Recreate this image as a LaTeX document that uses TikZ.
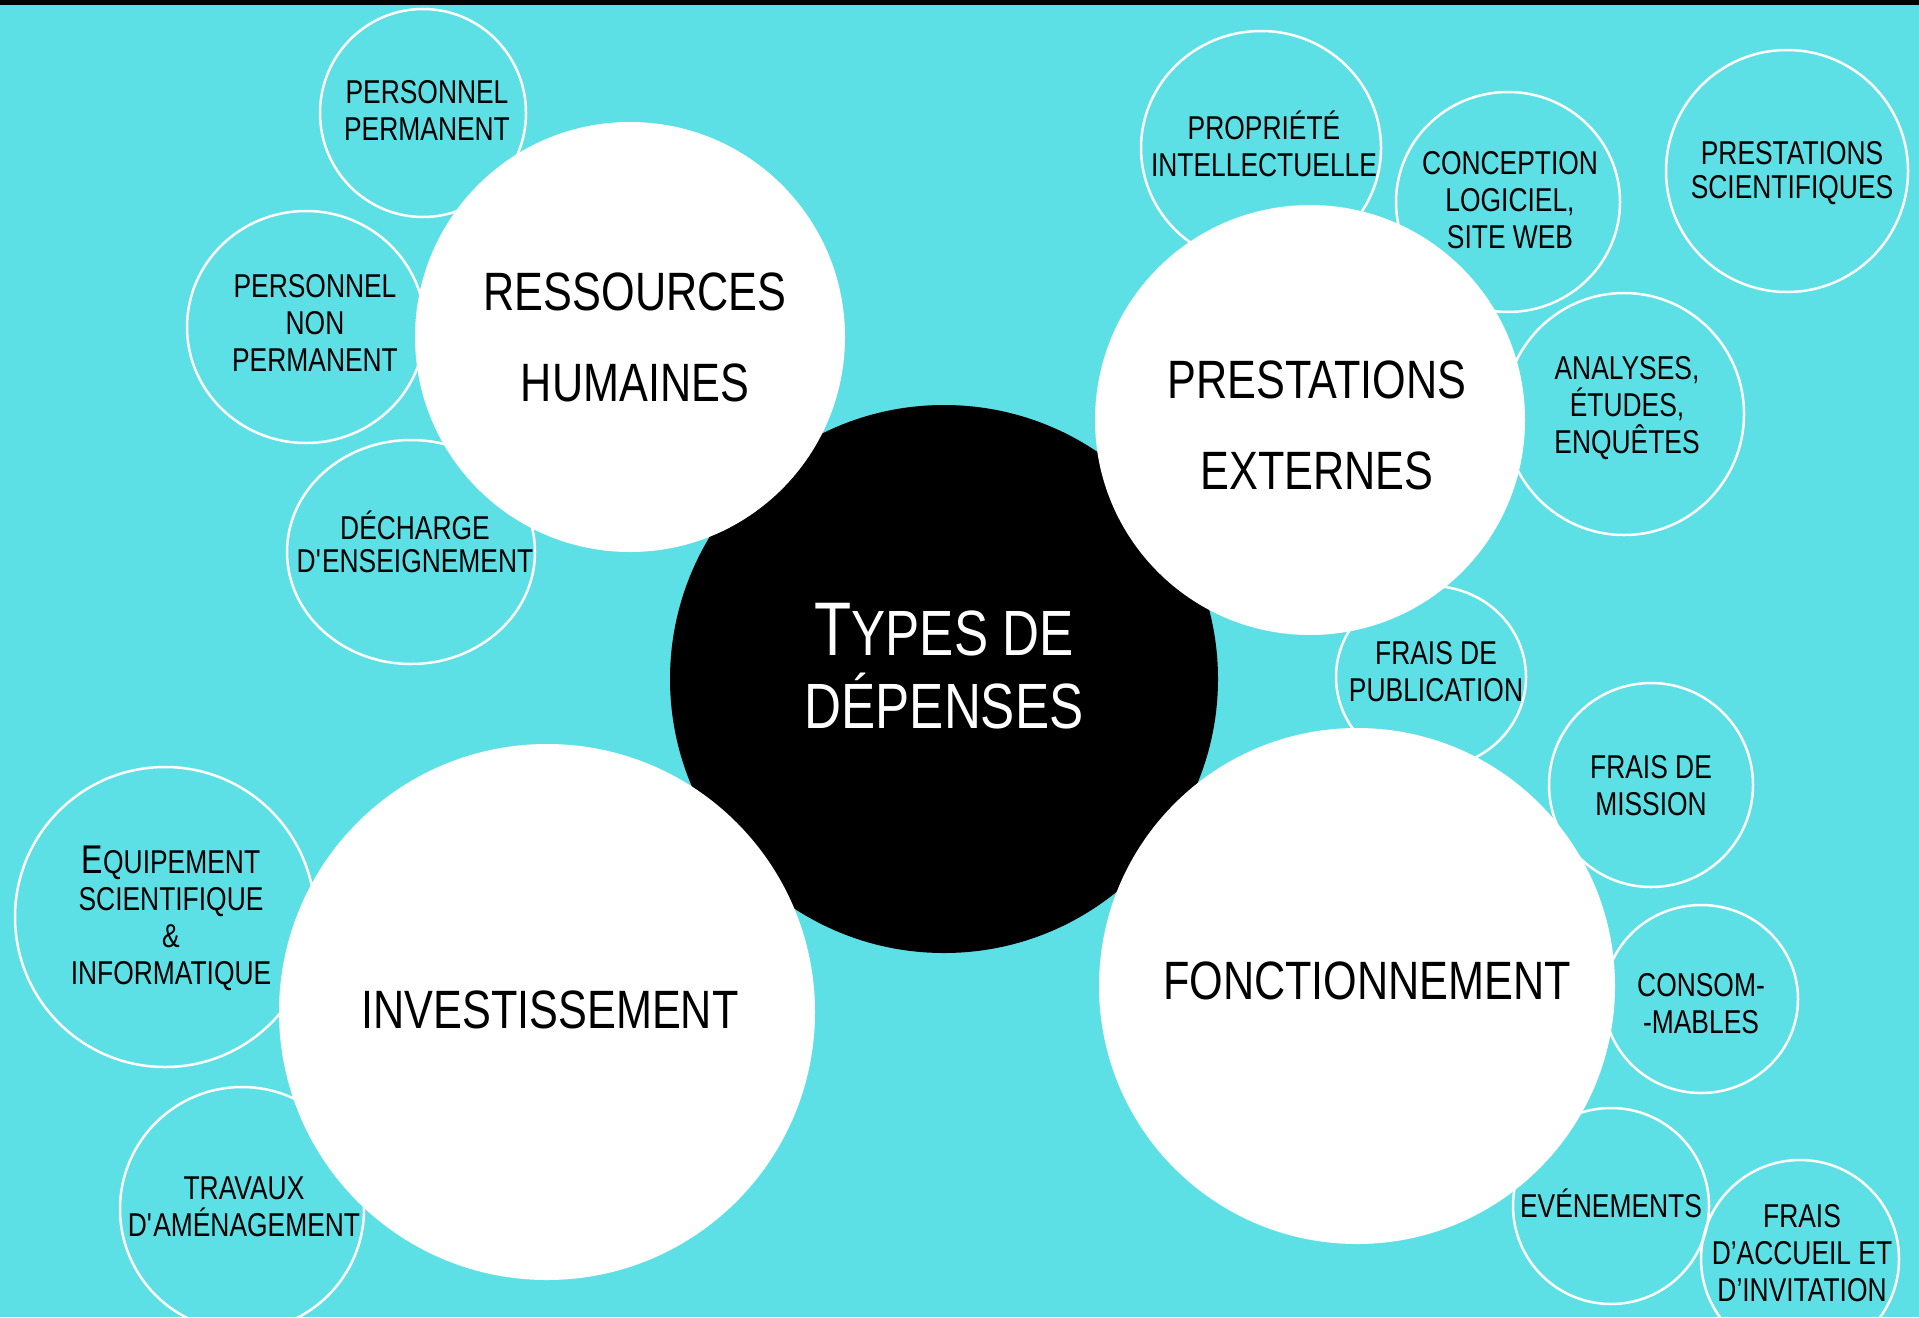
\documentclass[tikz,border=0pt]{standalone}
\usepackage{fontspec}
\setmainfont{Liberation Sans}[FakeStretch=0.8]
\usetikzlibrary{shapes.geometric}
\definecolor{fond}{RGB}{93,224,229}
\tikzset{
  bulle/.style={ellipse,draw=white,line width=2.5pt,inner sep=0pt},
  grand/.style={circle,fill=white,inner sep=0pt},
  etiq/.style={align=center,text=black,font=\fontsize{33}{37}\selectfont},
  titre/.style={align=center,text=black,font=\fontsize{54}{91}\selectfont}
}
\begin{document}
\begin{tikzpicture}[x=1pt,y=-1pt]
\useasboundingbox (0,0) rectangle (1919,1317);
\clip (0,0) rectangle (1919,1317);
\fill[fond] (0,0) rectangle (1919,1317);
\fill[black] (0,0) rectangle (1919,5);
% disque central
\node[circle,fill=black,inner sep=0pt,minimum size=548] (centre) at (944,679) {};
\node[align=center,text=white,font=\fontsize{64}{73}\selectfont] (tcentre) at (944,666) {{\fontsize{76}{73}\selectfont T}YPES DE\\DÉPENSES};
% grands disques
\foreach \nom/\cx/\cy/\d in {rh/630/337/430,pe/1310/420/430,inv/547/1012/536,fonc/1357/986/516}
  \node[grand,minimum size=\d] (\nom) at (\cx,\cy) {};
\node[titre] (trh) at (635,337) {RESSOURCES\\HUMAINES};
\node[titre] (tpe) at (1317,425) {PRESTATIONS\\EXTERNES};
\node[titre] (tinv) at (550,1010) {INVESTISSEMENT};
\node[titre] (tfonc) at (1367,981) {FONCTIONNEMENT};
% bulles
\foreach \nom/\cx/\cy/\rx/\ry in {pp/423/113/103/104,pnp/306/327/119/116,dec/411/552/124/112,
  pi/1261/148/120/117,cl/1508/202/112/110,ps/1787/171/121/121,an/1624/414/120/121,
  fp/1431/677/95/91,fm/1651/785/102/102,co/1701/999/97/94,ev/1611/1206/98/98,
  fa/1800/1259/99/99,eq/165/917/150/150,tr/242/1209/122/122}
  \node[bulle,minimum width=2*\rx,minimum height=2*\ry] (\nom) at (\cx,\cy) {};
\foreach \nom/\tx/\ty/\texte in {pp/427/110/{PERSONNEL\\PERMANENT},
  pnp/315/323/{PERSONNEL\\NON\\PERMANENT},
  dec/415/542/{DÉCHARGE\\[-4pt]D\textquotesingle ENSEIGNEMENT},
  pi/1264/144/{PROPRIÉTÉ\\INTELLECTUELLE},
  cl/1510/200/{CONCEPTION\\LOGICIEL,\\SITE WEB},
  ps/1792/173/{PRESTATIONS\\[-3pt]SCIENTIFIQUES},
  an/1627/408/{ANALYSES,\\ÉTUDES,\\ENQUÊTES},
  fp/1436/672/{FRAIS DE\\PUBLICATION},
  fm/1651/786/{FRAIS DE\\MISSION},
  co/1701/1004/{CONSOM-\\-MABLES},
  ev/1611/1203/{EVÉNEMENTS},
  fa/1802/1253/{FRAIS\\D’ACCUEIL ET\\D’INVITATION},
  eq/171/918/{{\fontsize{40}{37}\selectfont E}QUIPEMENT\\SCIENTIFIQUE\\\&\\INFORMATIQUE},
  tr/244/1207/{TRAVAUX\\D\textquotesingle AMÉNAGEMENT}}
  \node[etiq] (t\nom) at (\tx,\ty) {\texte};
\end{tikzpicture}
\end{document}
